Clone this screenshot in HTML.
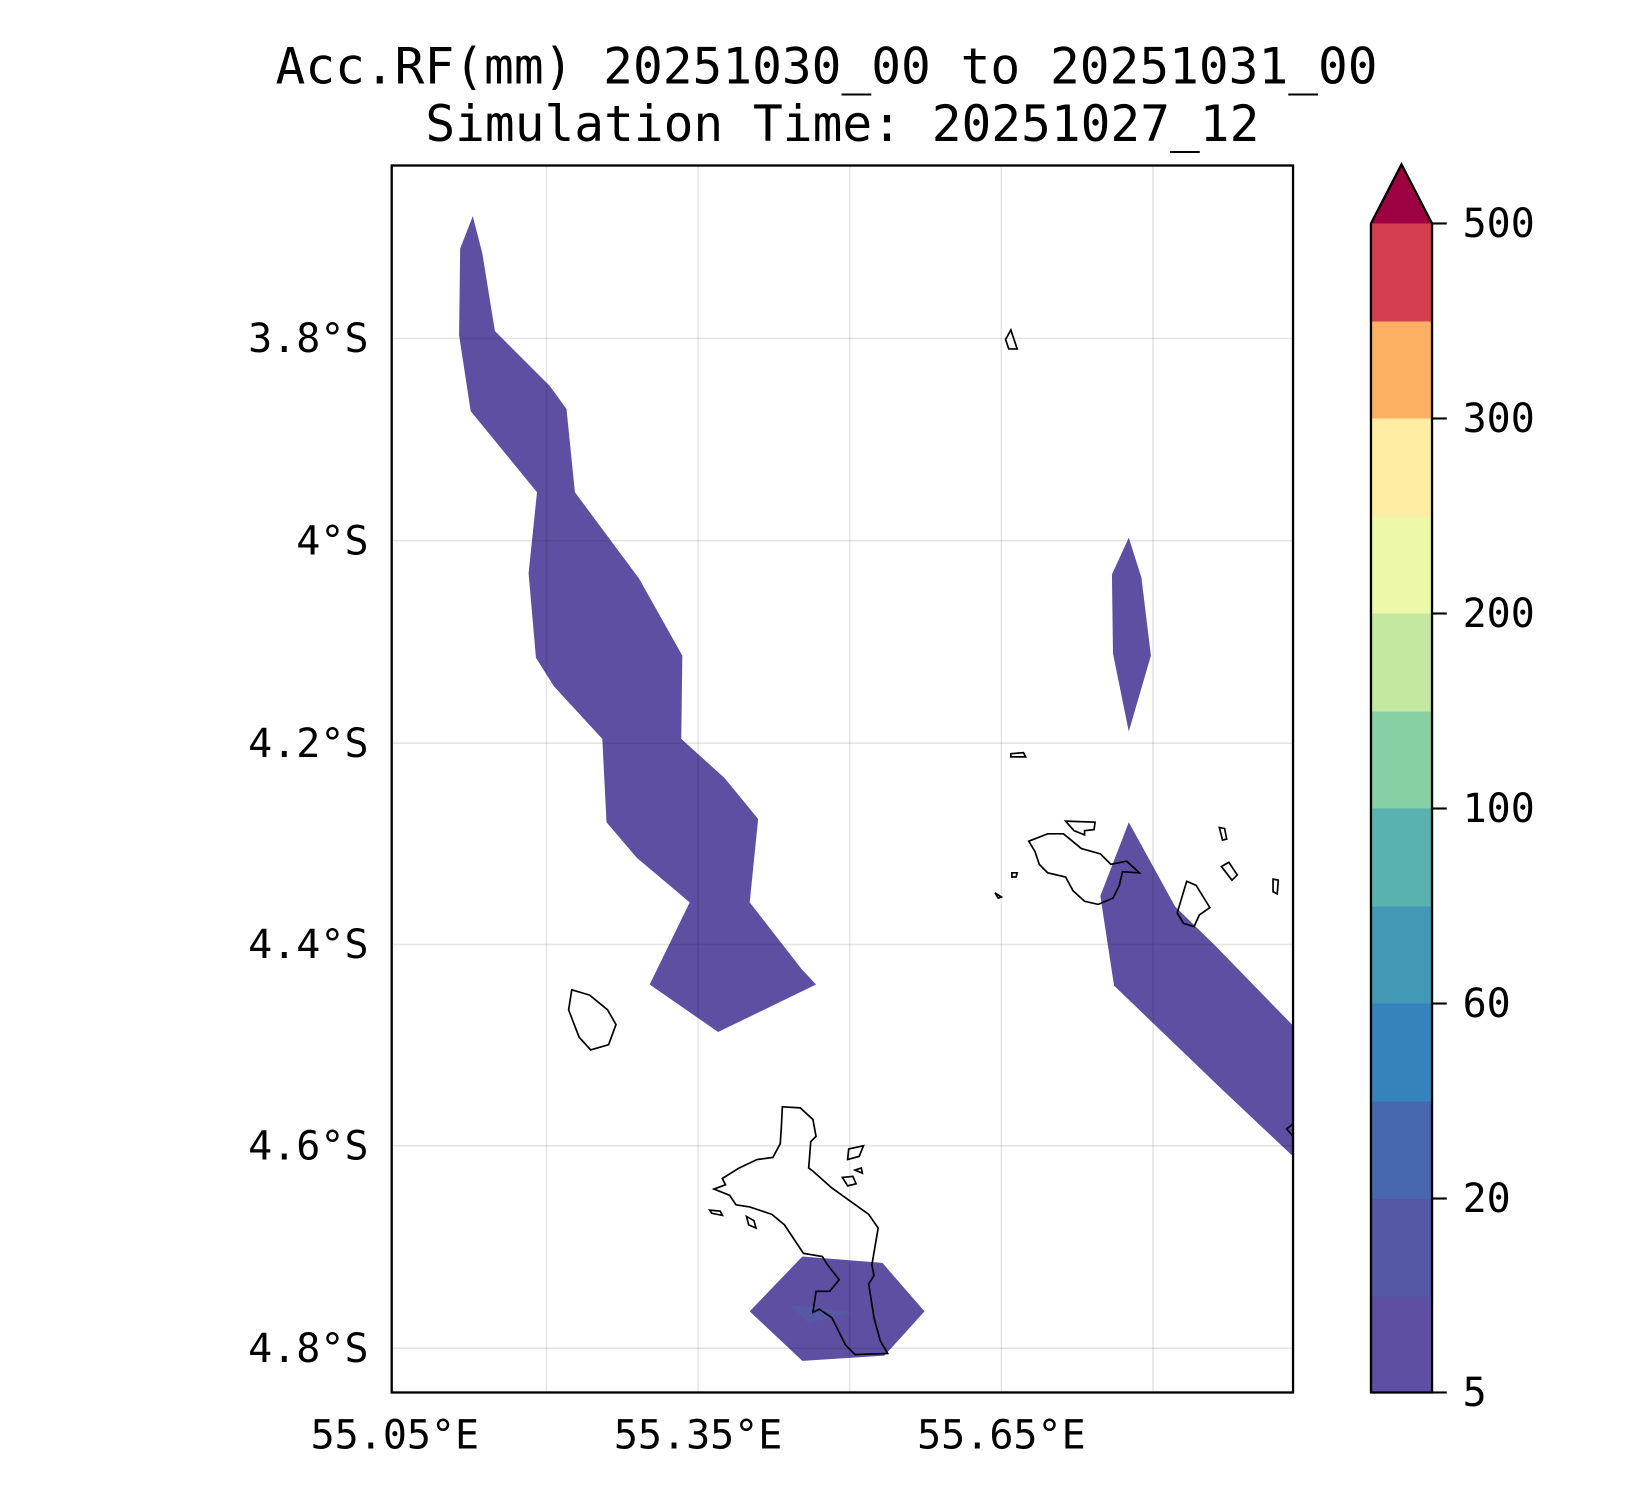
<!DOCTYPE html>
<html><head><meta charset="utf-8"><style>html,body{margin:0;padding:0;background:#fff}svg{display:block}</style></head>
<body>
<svg width="1650" height="1500" viewBox="0 0 1567 1423" preserveAspectRatio="none" xmlns="http://www.w3.org/2000/svg" font-family="'DejaVu Sans Mono','Liberation Mono',monospace">
<rect width="1567" height="1423" fill="#fff"/>
<text x="785" y="79" font-size="47" text-anchor="middle">Acc.RF(mm) 20251030_00 to 20251031_00</text>
<text x="800" y="134" font-size="47" text-anchor="middle">Simulation Time: 20251027_12</text>
<g fill="#5e4fa2">
<polygon points="449,205 458,240 470,314 522,366 538,388 546,467 607,549 648,622 647,701 688,738 720,777 712,856 761,919 775,934 682,979 617,934 655,856 605,814 576,780 572,701 526,651 509,624 502,544 510,467 447,390 436,318 437,236"/>
<polygon points="1072,510 1084,548 1093,622 1072,694 1057,620 1056,545"/>
<polygon points="1072,780 1116,860 1155,898 1228,973 1228,1097 1160,1033 1110,985 1058,935 1045,850"/>
<polygon points="762,1192 838,1198 878,1244 840,1286 762,1291 712,1244"/>
</g>
<polygon points="750,1238 810,1245 768,1255" fill="#5460a8" opacity="0.6"/>
<g stroke="#000" stroke-opacity="0.1" stroke-width="1.5">
<line x1="372" x2="1228" y1="321" y2="321"/><line x1="372" x2="1228" y1="513" y2="513"/>
<line x1="372" x2="1228" y1="705" y2="705"/><line x1="372" x2="1228" y1="896" y2="896"/>
<line x1="372" x2="1228" y1="1087" y2="1087"/><line x1="372" x2="1228" y1="1279" y2="1279"/>
<line x1="519" x2="519" y1="157" y2="1321"/><line x1="663" x2="663" y1="157" y2="1321"/>
<line x1="807" x2="807" y1="157" y2="1321"/><line x1="951" x2="951" y1="157" y2="1321"/>
<line x1="1095" x2="1095" y1="157" y2="1321"/>
</g>
<g fill="none" stroke="#000" stroke-width="1.6">
<polygon points="743,1050 760,1051 772,1062 775,1078 770,1083 768,1108 772,1111 790,1127 825,1152 834,1165 828,1200 830,1210 825,1218 830,1250 836,1272 843,1284 812,1285 803,1276 790,1250 778,1242 772,1245 775,1225 788,1225 797,1214 786,1200 781,1192 763,1189 745,1162 733,1152 712,1145 699,1143 693,1134 678,1128 689,1124 686,1118 702,1108 719,1100 734,1098 741,1085 742,1070"/>
<polygon points="806,1090 820,1087 816,1097 805,1100"/>
<polygon points="800,1117 810,1116 813,1123 805,1125"/>
<polygon points="812,1110 818,1108 819,1113"/>
<polygon points="674,1148 684,1149 686,1153 676,1151"/>
<polygon points="709,1154 716,1158 718,1165 711,1162"/>
<polygon points="543,939 560,944 577,958 585,972 578,991 561,996 550,984 540,958"/>
<polygon points="977,798 995,791 1010,791 1027,805 1045,810 1055,820 1070,817 1082,828 1066,827 1063,840 1057,852 1043,858 1030,855 1019,845 1012,832 995,828 987,820 983,808"/>
<polygon points="1012,779 1040,780 1039,787 1030,788 1030,792 1020,788"/>
<polygon points="1127,836 1136,840 1149,861 1139,868 1134,879 1124,876 1118,866"/>
<polygon points="1160,822 1167,818 1175,830 1170,835"/>
<polygon points="1158,785 1163,786 1165,796 1161,797"/>
<polygon points="1209,834 1214,835 1213,848 1209,846"/>
<polygon points="955,322 960,313 966,331 958,331"/>
<polygon points="960,715 972,714 974,718 960,718"/>
<polygon points="961,828 966,828 965,832 961,832"/>
<polygon points="945,847 951,851 948,852"/>
<polygon points="1222,1071 1228,1066 1228,1078"/>
</g>
<rect x="372" y="157" width="856" height="1164" fill="none" stroke="#000" stroke-width="2.2"/>
<g font-size="38" text-anchor="end">
<text x="350" y="334">3.8°S</text><text x="350" y="526">4°S</text>
<text x="350" y="718">4.2°S</text><text x="350" y="909">4.4°S</text>
<text x="350" y="1100">4.6°S</text><text x="350" y="1292">4.8°S</text>
</g>
<g font-size="38" text-anchor="middle">
<text x="375" y="1374">55.05°E</text><text x="663" y="1374">55.35°E</text><text x="951" y="1374">55.65°E</text>
</g>
<g>
<rect x="1302" y="1229" width="58" height="93" fill="#5e4fa2"/>
<rect x="1302" y="1137" width="58" height="93" fill="#5558a5"/>
<rect x="1302" y="1044" width="58" height="93" fill="#4868ae"/>
<rect x="1302" y="952" width="58" height="93" fill="#3682ba"/>
<rect x="1302" y="859" width="58" height="93" fill="#4199b5"/>
<rect x="1302" y="767" width="58" height="93" fill="#5ab2ae"/>
<rect x="1302" y="674" width="58" height="93" fill="#86cfa5"/>
<rect x="1302" y="582" width="58" height="93" fill="#c4e89f"/>
<rect x="1302" y="489" width="58" height="93" fill="#eff8a8"/>
<rect x="1302" y="397" width="58" height="93" fill="#feeda2"/>
<rect x="1302" y="304" width="58" height="93" fill="#fcb062"/>
<rect x="1302" y="212" width="58" height="93" fill="#d53e4f"/>
<polygon points="1302,212 1331,156 1360,212" fill="#9e0142"/>
<polygon points="1302,1321 1302,212 1331,156 1360,212 1360,1321" fill="none" stroke="#000" stroke-width="2.2"/>
</g>
<g stroke="#000" stroke-width="2">
<line x1="1360" x2="1374" y1="212" y2="212"/><line x1="1360" x2="1374" y1="397" y2="397"/>
<line x1="1360" x2="1374" y1="582" y2="582"/><line x1="1360" x2="1374" y1="767" y2="767"/>
<line x1="1360" x2="1374" y1="952" y2="952"/><line x1="1360" x2="1374" y1="1137" y2="1137"/>
<line x1="1360" x2="1374" y1="1321" y2="1321"/>
</g>
<g font-size="38">
<text x="1389" y="225">500</text><text x="1389" y="410">300</text><text x="1389" y="595">200</text>
<text x="1389" y="780">100</text><text x="1389" y="965">60</text><text x="1389" y="1150">20</text>
<text x="1389" y="1334">5</text>
</g>
</svg>
</body></html>
